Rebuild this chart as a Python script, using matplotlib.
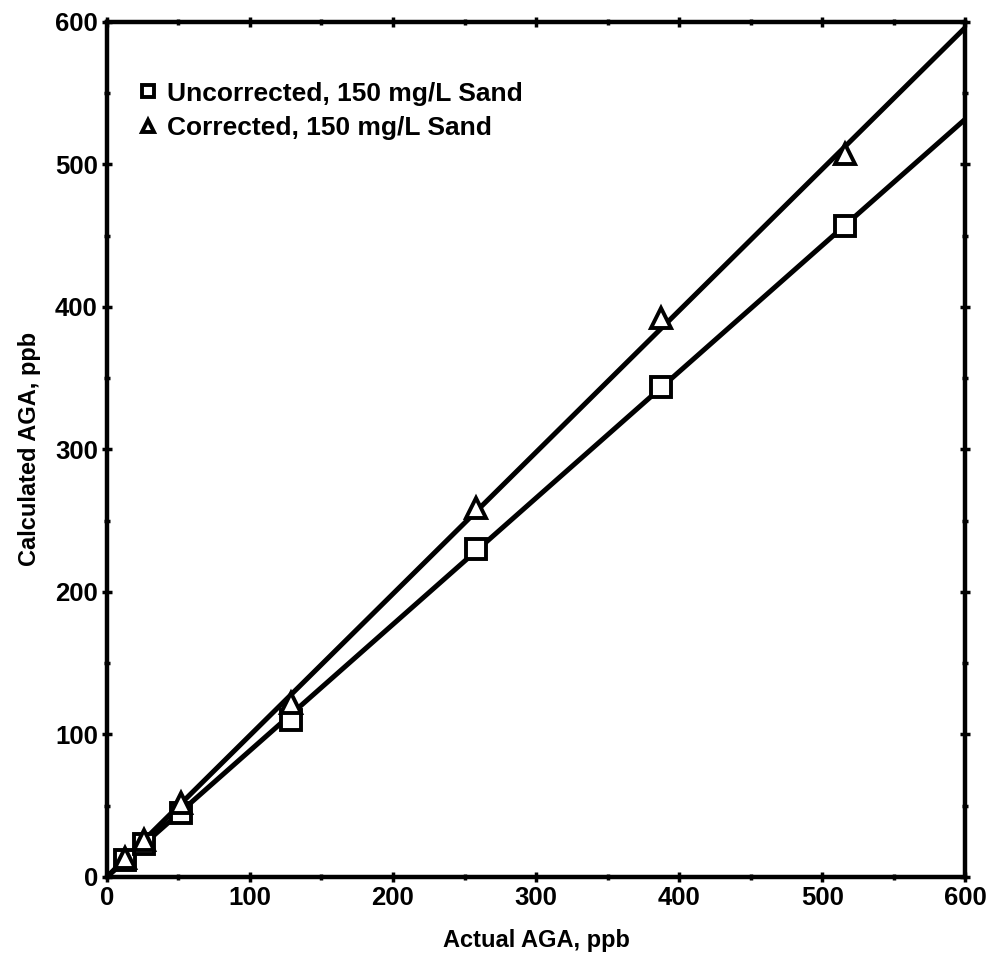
import numpy as np
import matplotlib
matplotlib.use("Agg")
import matplotlib.pyplot as plt
from matplotlib.ticker import MultipleLocator

plt.rcParams['font.family'] = ['Liberation Sans', 'DejaVu Sans']
plt.rcParams['font.weight'] = 'bold'

# data
actual_aga = [12.9, 25.8, 51.6, 129, 258, 387, 516]
uncorrected = [12, 23, 45, 110, 230, 344, 457]
corrected = [13, 26, 52, 122, 259, 392, 507]

labels = ["Uncorrected, 150 mg/L Sand", "Corrected, 150 mg/L Sand"]

fig = plt.figure(figsize=(9.89, 9.64), dpi=100)
ax = fig.add_axes([0.108, 0.0903, 0.868, 0.887])

x = np.array(actual_aga)
xs = np.array([0, 600])

# fit lines through origin
for yv in [uncorrected, corrected]:
    y = np.array(yv)
    slope = np.sum(x * y) / np.sum(x * x)
    ax.plot(xs, slope * xs, color='black', lw=3.6, solid_capstyle='butt', zorder=2)

ax.plot(x, uncorrected, linestyle='none', marker='s', ms=14, mfc='white',
        mec='black', mew=2.8, zorder=3, label=labels[0])
ax.plot(x, corrected, linestyle='none', marker='^', ms=14, mfc='white',
        mec='black', mew=2.8, zorder=3, label=labels[1])

ax.set_xlim(0, 600)
ax.set_ylim(0, 600)
ax.xaxis.set_major_locator(MultipleLocator(100))
ax.yaxis.set_major_locator(MultipleLocator(100))
ax.xaxis.set_minor_locator(MultipleLocator(50))
ax.yaxis.set_minor_locator(MultipleLocator(50))
ax.tick_params(which='both', direction='inout', top=True, right=True, width=2.5,
               labelsize=18.5, pad=3)
ax.tick_params(which='major', length=7)
ax.tick_params(which='minor', length=5)
for lab in ax.get_xticklabels() + ax.get_yticklabels():
    lab.set_fontweight('bold')
for s in ax.spines.values():
    s.set_linewidth(3.2)

ax.set_xlabel("Actual AGA, ppb", fontsize=17, fontweight='bold', labelpad=14)
ax.set_ylabel("Calculated AGA, ppb", fontsize=17, fontweight='bold', labelpad=10)

leg = ax.legend(loc='upper left', bbox_to_anchor=(0.013, 0.958), frameon=False,
                handlelength=0.5, handletextpad=0.45, labelspacing=0.4,
                prop={'size': 19, 'weight': 'bold'}, markerscale=0.65)

fig.savefig("out.png", dpi=100)
